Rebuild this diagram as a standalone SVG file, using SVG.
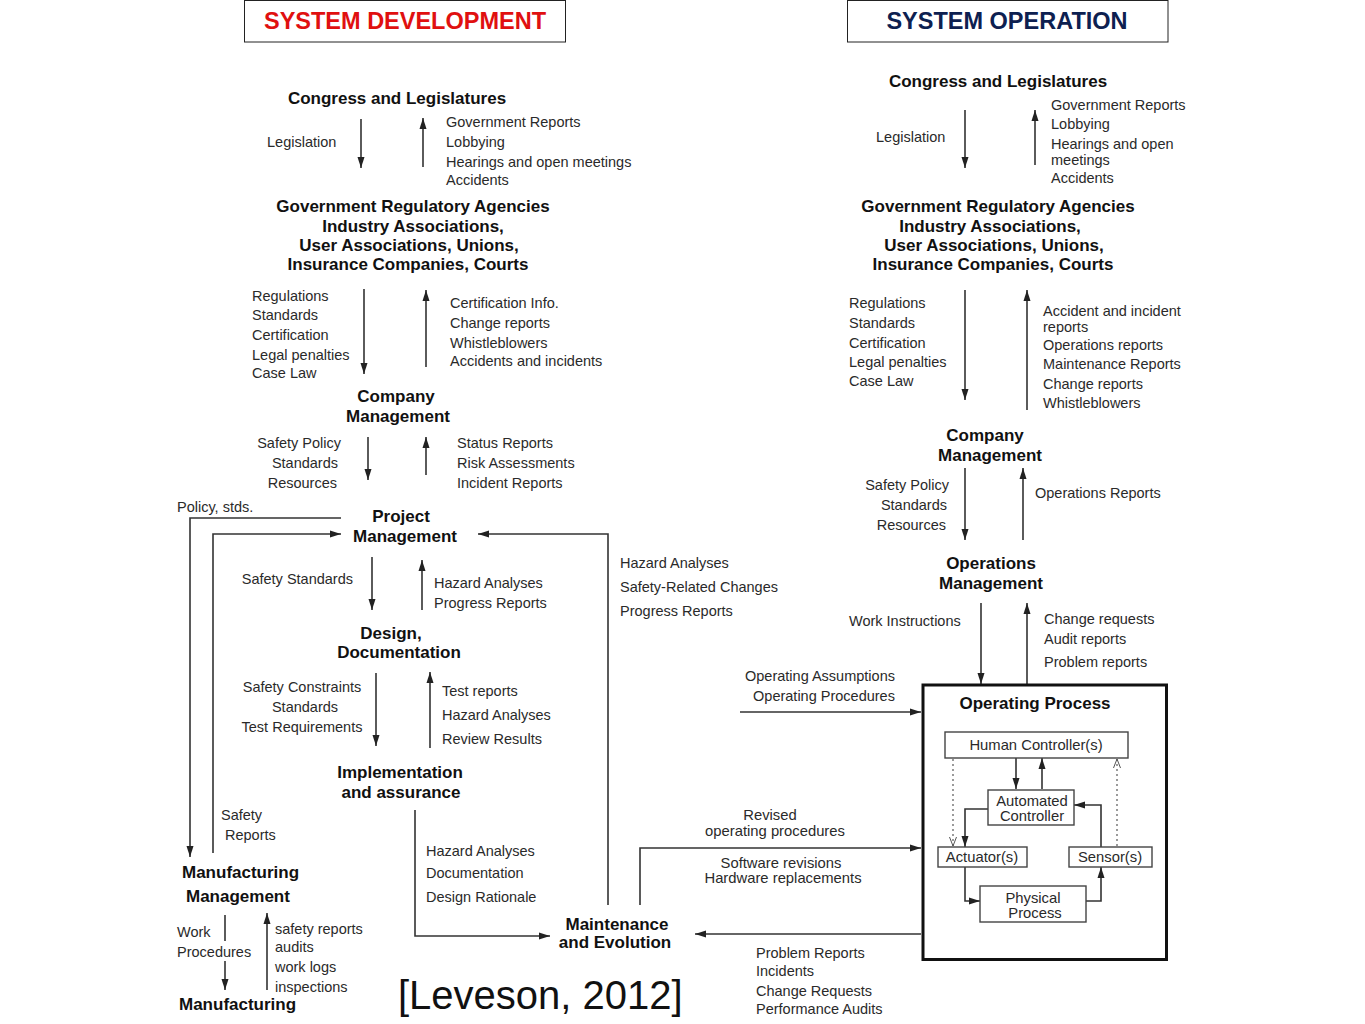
<svg xmlns="http://www.w3.org/2000/svg" width="1365" height="1024" viewBox="0 0 1365 1024">
<style>
text{font-family:"Liberation Sans",Arial,sans-serif;fill:#2a2a2a}
.t{font-size:14.5px}
.s{font-size:14.8px}
.b{font-size:17px;font-weight:bold;fill:#111}
.m{text-anchor:middle}
.e{text-anchor:end}
.ln{fill:none;stroke:#333;stroke-width:1.6}
.bx{fill:#fff;stroke:#444;stroke-width:1.4}
.dot{fill:none;stroke:#666;stroke-width:1.3;stroke-dasharray:2 3}
</style>
<defs>
<marker id="ar" markerUnits="userSpaceOnUse" markerWidth="12" markerHeight="8" refX="11" refY="4" orient="auto"><path d="M0,0.5 L11,4 L0,7.5 z" fill="#222"/></marker>
<marker id="op" markerUnits="userSpaceOnUse" markerWidth="10" markerHeight="8" refX="9" refY="4" orient="auto"><path d="M0,0.5 L9,4 L0,7.5" fill="none" stroke="#555" stroke-width="1"/></marker>
</defs>
<rect width="1365" height="1024" fill="#fff"/>

<g id="title-dev"><rect x="244.5" y="0.5" width="321" height="41.5" fill="#fff" stroke="#222" stroke-width="1"/><text x="405" y="29" class="m" style="font-size:23.5px;font-weight:bold;fill:#e01010">SYSTEM DEVELOPMENT</text></g>
<g id="title-op"><rect x="847.5" y="0.5" width="320.5" height="41.5" fill="#fff" stroke="#222" stroke-width="1"/><text x="1007" y="29" class="m" style="font-size:23.5px;font-weight:bold;fill:#0d2050">SYSTEM OPERATION</text></g>

<g id="connectors">
<line class="ln" x1="361" y1="119" x2="361" y2="168" marker-end="url(#ar)"/>
<line class="ln" x1="423" y1="167" x2="423" y2="118" marker-end="url(#ar)"/>
<line class="ln" x1="364" y1="289" x2="364" y2="374" marker-end="url(#ar)"/>
<line class="ln" x1="426" y1="367" x2="426" y2="290" marker-end="url(#ar)"/>
<line class="ln" x1="368" y1="437" x2="368" y2="480" marker-end="url(#ar)"/>
<line class="ln" x1="426" y1="475" x2="426" y2="437" marker-end="url(#ar)"/>
<polyline class="ln" points="341,518 190,518 190,857" marker-end="url(#ar)"/>
<polyline class="ln" points="213,853 213,534 341,534" marker-end="url(#ar)"/>
<polyline class="ln" points="608,905 608,534 478,534" marker-end="url(#ar)"/>
<line class="ln" x1="372" y1="557" x2="372" y2="610" marker-end="url(#ar)"/>
<line class="ln" x1="422" y1="610" x2="422" y2="560" marker-end="url(#ar)"/>
<line class="ln" x1="376" y1="673" x2="376" y2="746" marker-end="url(#ar)"/>
<line class="ln" x1="430" y1="748" x2="430" y2="672" marker-end="url(#ar)"/>
<polyline class="ln" points="415,810 415,936 550,936" marker-end="url(#ar)"/>
<line class="ln" x1="225" y1="915" x2="225" y2="941"/>
<line class="ln" x1="225" y1="961" x2="225" y2="990" marker-end="url(#ar)"/>
<line class="ln" x1="267" y1="990" x2="267" y2="913" marker-end="url(#ar)"/>
<polyline class="ln" points="640,905 640,848 921,848" marker-end="url(#ar)"/>
<line class="ln" x1="921" y1="934" x2="695" y2="934" marker-end="url(#ar)"/>
<line class="ln" x1="740" y1="712" x2="921" y2="712" marker-end="url(#ar)"/>

<line class="ln" x1="965" y1="110" x2="965" y2="168" marker-end="url(#ar)"/>
<line class="ln" x1="1035" y1="165" x2="1035" y2="110" marker-end="url(#ar)"/>
<line class="ln" x1="965" y1="290" x2="965" y2="400" marker-end="url(#ar)"/>
<line class="ln" x1="1027" y1="410" x2="1027" y2="290" marker-end="url(#ar)"/>
<line class="ln" x1="965" y1="468" x2="965" y2="540" marker-end="url(#ar)"/>
<line class="ln" x1="1023" y1="540" x2="1023" y2="468" marker-end="url(#ar)"/>
<line class="ln" x1="981" y1="603" x2="981" y2="684" marker-end="url(#ar)"/>
<line class="ln" x1="1027" y1="684" x2="1027" y2="603" marker-end="url(#ar)"/>

<line class="ln" x1="1016" y1="758" x2="1016" y2="789" marker-end="url(#ar)"/>
<line class="ln" x1="1042" y1="789" x2="1042" y2="758" marker-end="url(#ar)"/>
<polyline class="ln" points="988,809 965,809 965,847" marker-end="url(#ar)"/>
<polyline class="ln" points="1101,847 1101,805 1074,805" marker-end="url(#ar)"/>
<polyline class="ln" points="965,867 965,901 980,901" marker-end="url(#ar)"/>
<polyline class="ln" points="1086,901 1101,901 1101,867" marker-end="url(#ar)"/>
<line class="dot" x1="953" y1="759" x2="953" y2="846" marker-end="url(#op)"/>
<line class="dot" x1="1117" y1="846" x2="1117" y2="759" marker-end="url(#op)"/>
</g>

<g id="dev-congress"><text x="397" y="104" class="b m">Congress and Legislatures</text></g>
<g id="dev-legis-labels">
<text x="267" y="147" class="t">Legislation</text>
<text x="446" y="127" class="t">Government Reports</text>
<text x="446" y="147" class="t">Lobbying</text>
<text x="446" y="167" class="t">Hearings and open meetings</text>
<text x="446" y="185" class="t">Accidents</text>
</g>
<g id="dev-agencies">
<text x="413" y="212" class="b m">Government Regulatory Agencies</text>
<text x="413" y="232" class="b m">Industry Associations,</text>
<text x="409" y="251" class="b m">User Associations, Unions,</text>
<text x="408" y="270" class="b m">Insurance Companies, Courts</text>
</g>
<g id="dev-reg-labels">
<text x="252" y="301" class="t">Regulations</text>
<text x="252" y="320" class="t">Standards</text>
<text x="252" y="340" class="t">Certification</text>
<text x="252" y="360" class="t">Legal penalties</text>
<text x="252" y="378" class="t">Case Law</text>
<text x="450" y="308" class="t">Certification Info.</text>
<text x="450" y="328" class="t">Change reports</text>
<text x="450" y="348" class="t">Whistleblowers</text>
<text x="450" y="366" class="t">Accidents and incidents</text>
</g>
<g id="dev-company">
<text x="396" y="402" class="b m">Company</text>
<text x="398" y="422" class="b m">Management</text>
</g>
<g id="dev-company-labels">
<text x="341" y="448" class="t e">Safety Policy</text>
<text x="338" y="468" class="t e">Standards</text>
<text x="337" y="488" class="t e">Resources</text>
<text x="457" y="448" class="t">Status Reports</text>
<text x="457" y="468" class="t">Risk Assessments</text>
<text x="457" y="488" class="t">Incident Reports</text>
<text x="177" y="512" class="t">Policy, stds.</text>
</g>
<g id="dev-project">
<text x="401" y="522" class="b m">Project</text>
<text x="405" y="542" class="b m">Management</text>
</g>
<g id="dev-project-labels">
<text x="353" y="584" class="t e">Safety Standards</text>
<text x="434" y="588" class="t">Hazard Analyses</text>
<text x="434" y="608" class="t">Progress Reports</text>
<text x="620" y="568" class="t">Hazard Analyses</text>
<text x="620" y="592" class="t">Safety-Related Changes</text>
<text x="620" y="616" class="t">Progress Reports</text>
</g>
<g id="dev-design">
<text x="391" y="639" class="b m">Design,</text>
<text x="399" y="658" class="b m">Documentation</text>
</g>
<g id="dev-design-labels">
<text x="302" y="692" class="t m">Safety Constraints</text>
<text x="305" y="712" class="t m">Standards</text>
<text x="302" y="732" class="t m">Test Requirements</text>
<text x="442" y="696" class="t">Test reports</text>
<text x="442" y="720" class="t">Hazard Analyses</text>
<text x="442" y="744" class="t">Review Results</text>
</g>
<g id="dev-impl">
<text x="400" y="778" class="b m">Implementation</text>
<text x="401" y="798" class="b m">and assurance</text>
</g>
<g id="dev-impl-labels">
<text x="221" y="820" class="t">Safety</text>
<text x="225" y="840" class="t">Reports</text>
<text x="426" y="856" class="t">Hazard Analyses</text>
<text x="426" y="878" class="t">Documentation</text>
<text x="426" y="902" class="t">Design Rationale</text>
</g>
<g id="dev-mfg-mgmt">
<text x="182" y="878" class="b">Manufacturing</text>
<text x="186" y="902" class="b">Management</text>
</g>
<g id="dev-mfg-labels">
<text x="177" y="937" class="t">Work</text>
<text x="177" y="957" class="t">Procedures</text>
<text x="275" y="934" class="t">safety reports</text>
<text x="275" y="952" class="t">audits</text>
<text x="275" y="972" class="t">work logs</text>
<text x="275" y="992" class="t">inspections</text>
</g>
<g id="dev-mfg"><text x="179" y="1010" class="b">Manufacturing</text></g>
<g id="maintenance">
<text x="617" y="930" class="b m">Maintenance</text>
<text x="615" y="948" class="b m">and Evolution</text>
</g>
<g id="maint-labels">
<text x="770" y="820" class="s m">Revised</text>
<text x="775" y="836" class="s m">operating procedures</text>
<text x="781" y="868" class="s m">Software revisions</text>
<text x="783" y="883" class="s m">Hardware replacements</text>
<text x="756" y="958" class="t">Problem Reports</text>
<text x="756" y="976" class="t">Incidents</text>
<text x="756" y="996" class="t">Change Requests</text>
<text x="756" y="1014" class="t">Performance Audits</text>
</g>
<g id="citation"><text x="398" y="1009" style="font-size:40px;fill:#111">[Leveson, 2012]</text></g>

<g id="op-congress"><text x="998" y="87" class="b m">Congress and Legislatures</text></g>
<g id="op-legis-labels">
<text x="876" y="142" class="t">Legislation</text>
<text x="1051" y="110" class="t">Government Reports</text>
<text x="1051" y="129" class="t">Lobbying</text>
<text x="1051" y="149" class="t">Hearings and open</text>
<text x="1051" y="165" class="t">meetings</text>
<text x="1051" y="183" class="t">Accidents</text>
</g>
<g id="op-agencies">
<text x="998" y="212" class="b m">Government Regulatory Agencies</text>
<text x="990" y="232" class="b m">Industry Associations,</text>
<text x="994" y="251" class="b m">User Associations, Unions,</text>
<text x="993" y="270" class="b m">Insurance Companies, Courts</text>
</g>
<g id="op-reg-labels">
<text x="849" y="308" class="t">Regulations</text>
<text x="849" y="328" class="t">Standards</text>
<text x="849" y="348" class="t">Certification</text>
<text x="849" y="367" class="t">Legal penalties</text>
<text x="849" y="386" class="t">Case Law</text>
<text x="1043" y="316" class="t">Accident and incident</text>
<text x="1043" y="332" class="t">reports</text>
<text x="1043" y="350" class="t">Operations reports</text>
<text x="1043" y="369" class="t">Maintenance Reports</text>
<text x="1043" y="389" class="t">Change reports</text>
<text x="1043" y="408" class="t">Whistleblowers</text>
</g>
<g id="op-company">
<text x="985" y="441" class="b m">Company</text>
<text x="990" y="461" class="b m">Management</text>
</g>
<g id="op-company-labels">
<text x="949" y="490" class="t e">Safety Policy</text>
<text x="947" y="510" class="t e">Standards</text>
<text x="946" y="530" class="t e">Resources</text>
<text x="1035" y="498" class="t">Operations Reports</text>
</g>
<g id="op-ops">
<text x="991" y="569" class="b m">Operations</text>
<text x="991" y="589" class="b m">Management</text>
</g>
<g id="op-ops-labels">
<text x="849" y="626" class="t">Work Instructions</text>
<text x="1044" y="624" class="t">Change requests</text>
<text x="1044" y="644" class="t">Audit reports</text>
<text x="1044" y="667" class="t">Problem reports</text>
<text x="820" y="681" class="t m">Operating Assumptions</text>
<text x="824" y="701" class="t m">Operating Procedures</text>
</g>
<g id="operating-process">
<rect x="923" y="685" width="243.5" height="274.5" fill="none" stroke="#111" stroke-width="3"/>
<text x="1035" y="709" class="b m">Operating Process</text>
</g>
<g id="human-controller"><rect class="bx" x="945" y="732" width="183" height="26"/><text x="1036" y="750" class="s m">Human Controller(s)</text></g>
<g id="automated-controller"><rect class="bx" x="988" y="790" width="86" height="35"/><text x="1032" y="806" class="s m">Automated</text><text x="1032" y="821" class="s m">Controller</text></g>
<g id="actuators"><rect class="bx" x="938" y="847" width="89" height="20"/><text x="982" y="862" class="s m">Actuator(s)</text></g>
<g id="sensors"><rect class="bx" x="1069" y="847" width="83" height="20"/><text x="1110" y="862" class="s m">Sensor(s)</text></g>
<g id="physical-process"><rect class="bx" x="980" y="886" width="106" height="36"/><text x="1033" y="903" class="s m">Physical</text><text x="1035" y="918" class="s m">Process</text></g>
</svg>
